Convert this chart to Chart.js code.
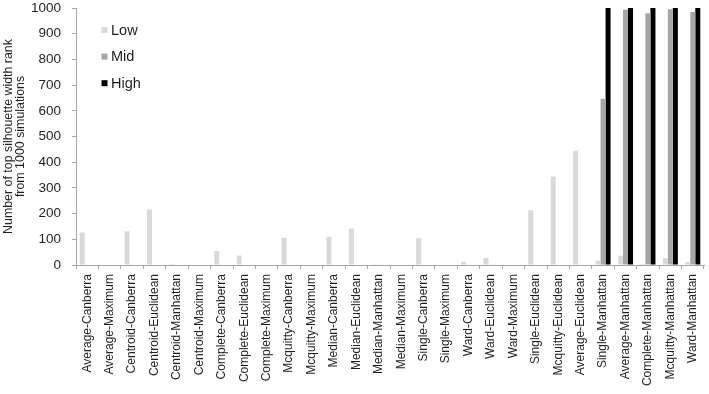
<!DOCTYPE html>
<html>
<head>
<meta charset="utf-8">
<script src="https://cdn.jsdelivr.net/npm/chart.js"></script>
<style>
  body { margin: 0; background: #fff; }
</style>
</head>
<body>
<canvas id="myChart" width="709" height="394"></canvas>
<script>
// data
const labels = ['Average-Canberra', 'Average-Maximum', 'Centroid-Canberra', 'Centroid-Euclidean',
    'Centroid-Manhattan', 'Centroid-Maximum', 'Complete-Canberra', 'Complete-Euclidean',
    'Complete-Maximum', 'Mcquitty-Canberra', 'Mcquitty-Maximum', 'Median-Canberra',
    'Median-Euclidean', 'Median-Manhattan', 'Median-Maximum', 'Single-Canberra',
    'Single-Maximum', 'Ward-Canberra', 'Ward-Euclidean', 'Ward-Maximum', 'Single-Euclidean',
    'Mcquitty-Euclidean', 'Average-Euclidean', 'Single-Manhattan', 'Average-Manhattan',
    'Complete-Manhattan', 'Mcquitty-Manhattan', 'Ward-Manhattan'];
const low  = [127, 2, 131, 216, 4, 0, 54, 37, 0, 106, 2, 110, 142, 3, 0, 104, 0, 12, 27, 0, 213, 344, 445, 16, 36, 4, 27, 12];
const mid  = [0, 0, 0, 0, 0, 0, 0, 0, 0, 0, 0, 0, 0, 0, 0, 0, 0, 0, 0, 0, 0, 0, 0, 647, 993, 980, 995, 984];
const high = [0, 0, 0, 0, 0, 0, 0, 0, 0, 0, 0, 0, 0, 0, 0, 0, 0, 0, 0, 0, 0, 0, 0, 1000, 1000, 1000, 1000, 1000];
const yTicks = [0, 100, 200, 300, 400, 500, 600, 700, 800, 900, 1000];

const FONT = 'Liberation Sans, Arial, sans-serif';
const TEXT = '#1f1f1f';
const AXIS = '#a6a6a6';

// vertical legend inside the plot, top left
const boxLegend = {
    id: 'boxLegend',
    afterDraw(chart) {
        const c = chart.ctx;
        const a = chart.chartArea;
        c.save();
        c.font = '14.5px ' + FONT;
        c.textBaseline = 'middle';
        chart.data.datasets.forEach((ds, i) => {
            const y = a.top + 22 + i * 26.6;
            c.fillStyle = ds.backgroundColor;
            c.fillRect(a.left + 25.5, y - 3, 6, 6);
            c.fillStyle = TEXT;
            c.fillText(ds.label, a.left + 35, y + 0.5);
        });
        c.restore();
    }
};

new Chart(document.getElementById('myChart'), {
    type: 'bar',
    data: {
        labels: labels,
        datasets: [
            { label: 'Low', data: low, backgroundColor: '#d9d9d9' },
            { label: 'Mid', data: mid, backgroundColor: '#a6a6a6' },
            { label: 'High', data: high, backgroundColor: '#000000' }
        ]
    },
    options: {
        responsive: false,
        animation: false,
        layout: { padding: { top: 0, right: 5, left: 0, bottom: 0 } },
        datasets: { bar: { categoryPercentage: 0.67, barPercentage: 1.0 } },
        plugins: { legend: { display: false }, tooltip: { enabled: false } },
        scales: {
            x: {
                offset: true,
                grid: { offset: true, drawOnChartArea: false, tickLength: 4, color: AXIS },
                border: { color: AXIS },
                ticks: {
                    autoSkip: false, minRotation: 90, maxRotation: 90, padding: 5,
                    color: TEXT, font: { family: FONT, size: 12 }
                },
                afterFit(scale) {
                    scale.height = 129;
                    scale.paddingLeft = 0;
                    scale.paddingRight = 0;
                }
            },
            y: {
                min: 0, max: 1000,
                afterBuildTicks(scale) { scale.ticks = yTicks.map(v => ({ value: v })); },
                grid: { drawOnChartArea: false, tickLength: 4, color: AXIS },
                border: { color: AXIS },
                ticks: {
                    padding: 11, color: TEXT, font: { family: FONT, size: 13.5 },
                    callback: v => String(v)
                },
                title: {
                    display: true,
                    text: ['Number of top silhouette width rank', 'from 1000 simulations'],
                    color: TEXT,
                    font: { family: FONT, size: 12.4, lineHeight: 1.0 },
                    padding: { top: 2, bottom: 0 }
                },
                afterFit(scale) {
                    scale.width = 76;
                    scale.paddingTop = 8;
                    scale.paddingBottom = 0;
                }
            }
        }
    },
    plugins: [boxLegend]
});
</script>
</body>
</html>
